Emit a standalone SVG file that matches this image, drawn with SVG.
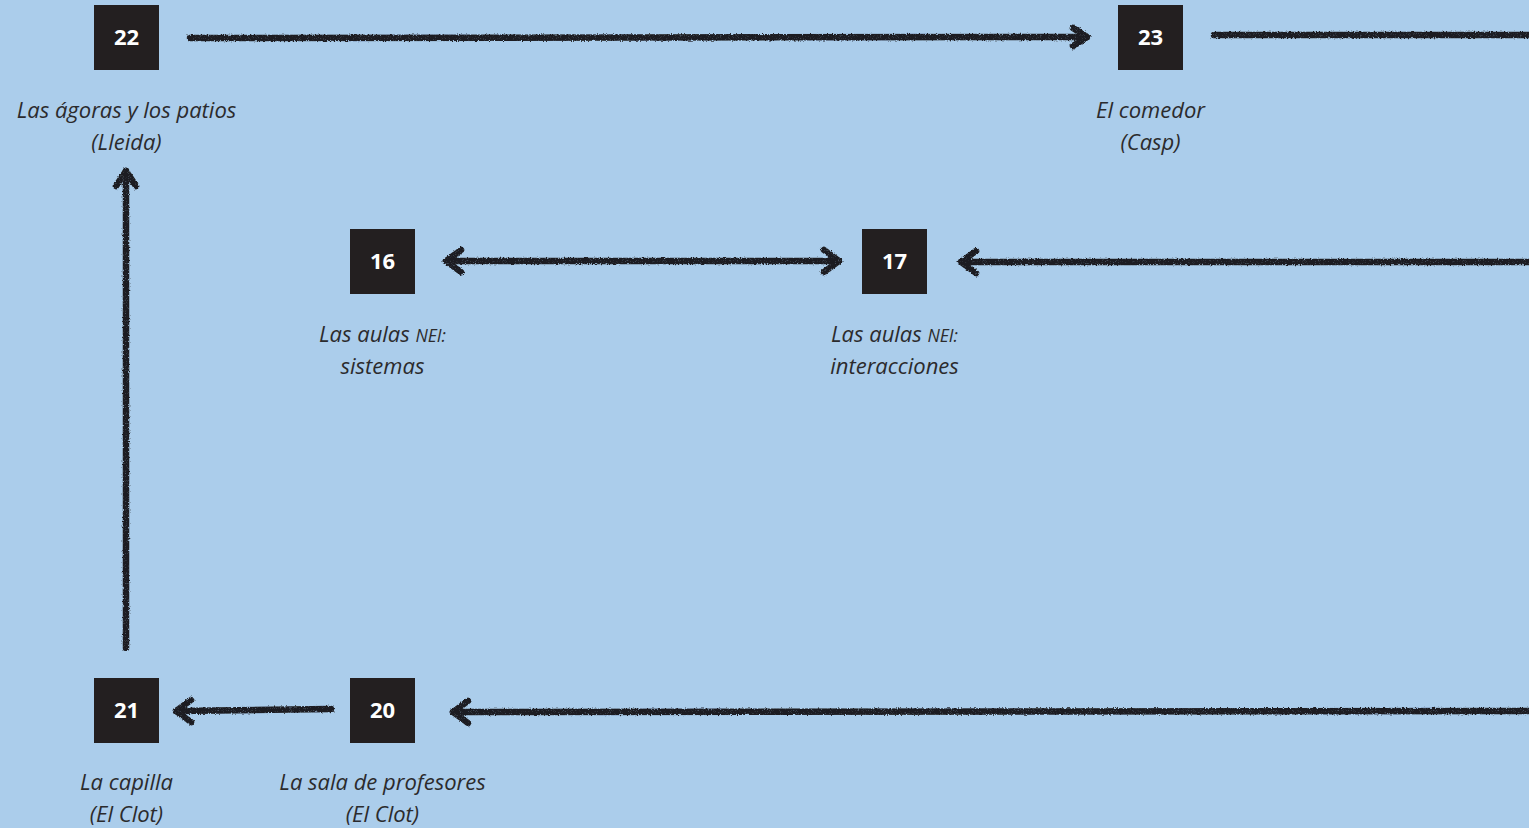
<svg xmlns="http://www.w3.org/2000/svg" width="1529" height="828" viewBox="0 0 1529 828">
  <defs>
    <!-- charcoal stroke texture: wobble plus grain -->
    <filter id="chalk" filterUnits="userSpaceOnUse" x="0" y="0" width="1529" height="828">
      <feTurbulence type="fractalNoise" baseFrequency="0.7" numOctaves="2" seed="3" result="noise"/>
      <feDisplacementMap in="SourceGraphic" in2="noise" scale="3" xChannelSelector="R" yChannelSelector="G" result="wob"/>
      <feTurbulence type="fractalNoise" baseFrequency="1.6" numOctaves="1" seed="8" result="grain"/>
      <feColorMatrix in="grain" type="matrix" values="0 0 0 0 0  0 0 0 0 0  0 0 0 0 0  0 0 0 -1.4 1.8" result="grainA"/>
      <feComposite in="wob" in2="grainA" operator="in"/>
    </filter>
  </defs>
  <style>
    .box { fill: #231f20; }
    .num { fill: #ffffff; font-family: "Open Sans", "Noto Sans", sans-serif; font-weight: 700; font-size: 22px; text-anchor: middle; }
    .lbl { fill: #2b2b2d; font-family: "Open Sans", "Noto Sans", sans-serif; font-style: italic; font-size: 22px; text-anchor: middle; }
    .sc { font-size: 17.5px; }
    .ln { fill: none; stroke: #1e1e22; stroke-width: 6.5; stroke-linecap: round; stroke-linejoin: round; }
  </style>

  <rect width="1529" height="828" fill="#abcdeb"/>

  <g id="connectors" filter="url(#chalk)">
    <!-- 22 to 23 -->
    <path class="ln" d="M190 38 L1087 37"/>
    <path class="ln" d="M1073 28 L1087 37 L1073 46"/>
    <!-- 23 onward, leaving right edge -->
    <path class="ln" d="M1214 35 L1535 35"/>
    <!-- 16 and 17, both ways -->
    <path class="ln" d="M446 261 L839 261"/>
    <path class="ln" d="M461 250 L446 261 L461 272"/>
    <path class="ln" d="M824 250 L839 261 L824 272"/>
    <!-- from the right into 17 -->
    <path class="ln" d="M1535 262 L961 262"/>
    <path class="ln" d="M976 251 L961 262 L976 273"/>
    <!-- 20 to 21 -->
    <path class="ln" d="M331 709 L176 711"/>
    <path class="ln" d="M191 700 L176 711 L191 722"/>
    <!-- from the right into 20 -->
    <path class="ln" d="M1535 711 L453 712"/>
    <path class="ln" d="M468 701 L453 712 L468 723"/>
    <!-- 21 up to 22 -->
    <path class="ln" d="M126 648 L126 171"/>
    <path class="ln" d="M116 186 L126 171 L136 186"/>
  </g>

  <g id="n22">
    <rect class="box" x="94" y="5" width="65" height="65"/>
    <text class="num" x="126.5" y="45">22</text>
    <text class="lbl" x="126.5" y="118">Las ágoras y los patios</text>
    <text class="lbl" x="126.5" y="150">(Lleida)</text>
  </g>

  <g id="n23">
    <rect class="box" x="1118" y="5" width="65" height="65"/>
    <text class="num" x="1150.5" y="45">23</text>
    <text class="lbl" x="1150.5" y="118">El comedor</text>
    <text class="lbl" x="1150.5" y="150">(Casp)</text>
  </g>

  <g id="n16">
    <rect class="box" x="350" y="229" width="65" height="65"/>
    <text class="num" x="382.5" y="269">16</text>
    <text class="lbl" x="382.5" y="342">Las aulas <tspan class="sc">NEI:</tspan></text>
    <text class="lbl" x="382.5" y="374">sistemas</text>
  </g>

  <g id="n17">
    <rect class="box" x="862" y="229" width="65" height="65"/>
    <text class="num" x="894.5" y="269">17</text>
    <text class="lbl" x="894.5" y="342">Las aulas <tspan class="sc">NEI:</tspan></text>
    <text class="lbl" x="894.5" y="374">interacciones</text>
  </g>

  <g id="n21">
    <rect class="box" x="94" y="678" width="65" height="65"/>
    <text class="num" x="126.5" y="718">21</text>
    <text class="lbl" x="126.5" y="790">La capilla</text>
    <text class="lbl" x="126.5" y="822">(El Clot)</text>
  </g>

  <g id="n20">
    <rect class="box" x="350" y="678" width="65" height="65"/>
    <text class="num" x="382.5" y="718">20</text>
    <text class="lbl" x="382.5" y="790">La sala de profesores</text>
    <text class="lbl" x="382.5" y="822">(El Clot)</text>
  </g>
</svg>
